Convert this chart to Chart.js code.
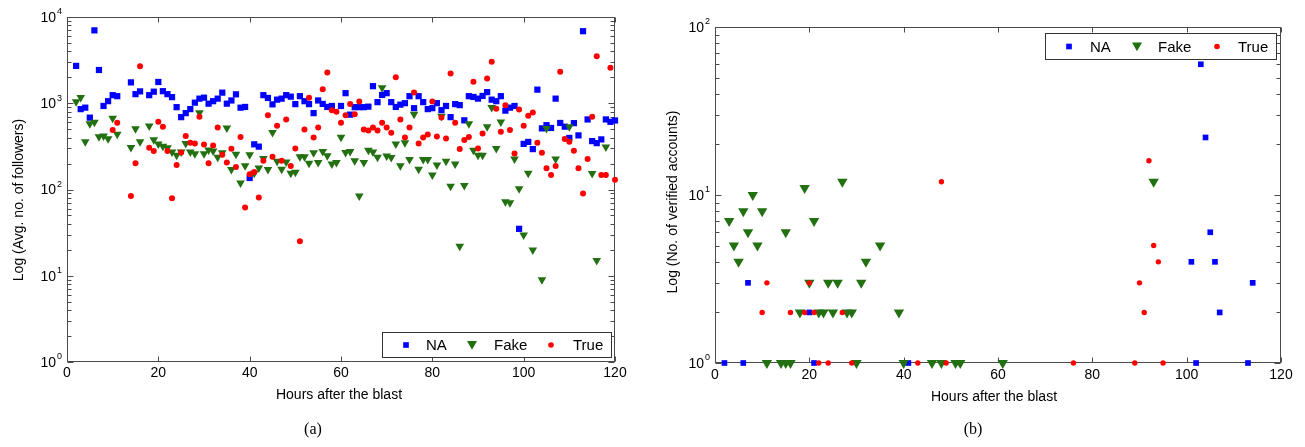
<!DOCTYPE html>
<html><head><meta charset="utf-8">
<script src="https://cdn.jsdelivr.net/npm/chart.js@4.4.0/dist/chart.umd.min.js"></script>
<style>
html,body{margin:0;padding:0;background:#fff;}
#wrap{position:relative;width:1305px;height:447px;background:#fff;}
canvas{position:absolute;top:0;}
</style></head><body>
<div id="wrap">
<canvas id="c1" width="650" height="447" style="left:0px"></canvas>
<canvas id="c2" width="655" height="447" style="left:650px"></canvas>
</div>
<script>
// ---------- DATA ----------
const hours = Array.from({length:120},(_,i)=>i+1);
const naFollowers = [null,2710,855,889,681,7000,2430,930,1057,1241,1208,null,null,1746,1275,1373,null,1241,1362,1765,
 1380,1275,1177,901,690,768,855,1016,1131,1161,989,1057,1131,1327,989,1077,1268,889,906,136,
 334,314,1241,1152,971,1101,1131,1241,1192,977,1208,1057,977,768,1077,982,906,930,null,930,
 1309,738,901,901,901,913,1578,1030,1248,1309,1030,906,963,1002,1208,877,1208,1030,855,877,
 1002,832,930,690,977,951,634,1208,1183,1131,1216,1345,1101,1057,1208,821,889,930,35,338,
 356,294,1438,511,557,517,1131,591,535,396,588,424,6845,649,364,345,381,649,609,632];
const fakeFollowers = [null,1038,1167,357,577,601,408,418,387,672,436,null,null,306,505,357,null,546,377,338,
 317,304,273,250,273,342,273,259,778,260,288,280,237,266,515,171,256,119,189,253,
 154,178,229,171,459,213,172,209,154,158,239,239,201,266,206,276,247,198,206,403,
 268,276,215,84,205,286,273,236,1517,244,235,336,188,348,223,748,172,223,223,147,
 192,709,213,109,197,22,111,577,286,250,250,533,894,299,607,72,70,226,102,29.6,
 154,19.9,null,9.0,511,null,226,null,null,533,null,null,null,null,153,15,null,310,null,null];
const trueFollowers = [null,null,null,null,null,null,null,null,null,488,593,null,null,84,201,2692,null,304,279,609,
 533,279,79,192,269,416,348,342,696,333,201,323,524,253,205,296,182,405,62,150,
 160,81,215,728,239,547,215,649,187,299,25.2,497,1155,402,524,1457,2275,832,795,593,
 728,977,748,1050,497,484,524,484,593,524,454,2006,649,402,524,1334,342,402,435,1050,
 412,685,391,2215,593,294,374,405,1770,299,447,1938,3018,861,466,951,488,262,848,547,
 715,782,348,266,176,147,187,2312,384,357,281,176,90,225,696,3515,147,147,2572,130];

const naVerHours   = [2,6,7,20,21,41,101,102,103,104,105,106,107,113,114];
const naVerCounts  = [1,1,3,2,1,1,4,1,60,22,6,4,2,1,3];
const fakeVerHours = [3,4,5,6,7,8,9,10,11,14,15,15,16,18,19,20,21,22,23,24,25,26,27,28,29,30,31,32,35,39,40,46,48,51,52,61,93];
const fakeVerCounts= [7,5,4,8,6,10,5,8,1,1,6,1,1,2,11,3,7,2,2,3,2,3,12,2,2,1,3,4,5,2,1,1,1,1,1,1,12];
const trueVerHours = [10,11,16,19,20,21,22,24,27,29,43,48,49,76,89,90,91,92,93,94,95];
const trueVerCounts= [2,3,2,2,3,2,1,1,2,1,1,12,1,1,1,3,2,16,5,4,1];

const xTickValues = [0,20,40,60,80,100,120];
const xTickLabels = ['0','20','40','60','80','100','120'];
const followersExponents = [0,1,2,3,4];
const verifiedExponents = [0,1,2];
const seriesNames = ['NA','Fake','True'];

// ---------- HELPERS ----------
const FONT = '"Liberation Sans", Arial, Helvetica, sans-serif';
const COL = {na:'#0000ff', fake:'rgb(34,112,17)', tru:'#ff0000'};

function pts(xs, ys){ const out=[]; xs.forEach((x,i)=>{ if(ys[i]!=null) out.push({x:x,y:ys[i]}); }); return out; }

function ds(label, data, style, r, color, rot, order){
  return {label, data, showLine:false, pointStyle:style, pointRadius:r, pointHoverRadius:r,
    pointRotation:rot||0, pointBackgroundColor:color, pointBorderColor:color, pointBorderWidth:0,
    backgroundColor:color, borderColor:color, clip:false, order:order};
}

function marker(ctx, style, x, y, r, color){
  ctx.fillStyle=color; ctx.beginPath();
  if(style==='rect'){ const s=Math.SQRT1_2*r; ctx.rect(x-s,y-s,2*s,2*s); }
  else if(style==='tri'){ ctx.moveTo(x, y+r); ctx.lineTo(x-r*Math.sqrt(3)/2, y-r/2); ctx.lineTo(x+r*Math.sqrt(3)/2, y-r/2); ctx.closePath(); }
  else { ctx.arc(x,y,r,0,Math.PI*2); }
  ctx.fill();
}

const framePlugin = {
  id:'frame',
  beforeDatasetsDraw(chart, args, o){
    const ctx=chart.ctx, xs=chart.scales.x, ys=chart.scales.y, a=chart.chartArea;
    const L=Math.round(a.left)+0.5, R=Math.round(a.right)-0.5, T=Math.round(a.top)+0.5, B=Math.round(a.bottom)-0.5;
    ctx.save();
    ctx.strokeStyle='#4a4a4a'; ctx.lineWidth=1;
    ctx.strokeRect(L,T,R-L,B-T);
    ctx.beginPath();
    xTickValues.forEach(v=>{
      const px=Math.round(xs.getPixelForValue(v))+0.5;
      ctx.moveTo(px,B); ctx.lineTo(px,B-5);
      ctx.moveTo(px,T); ctx.lineTo(px,T+5);
    });
    const ex=o.exps;
    for(let k=0;k<ex.length;k++){
      const d=ex[k];
      const ms = (k===ex.length-1)?[1]:[1,2,3,4,5,6,7,8,9];
      ms.forEach(m=>{
        const py=Math.round(ys.getPixelForValue(m*Math.pow(10,d)))+0.5;
        const len=(m===1)?6:4;
        ctx.moveTo(L,py); ctx.lineTo(L+len,py);
        ctx.moveTo(R,py); ctx.lineTo(R-len,py);
      });
    }
    ctx.stroke();
    // tick labels
    ctx.fillStyle='#000';
    ctx.font='14px '+FONT; ctx.textAlign='center'; ctx.textBaseline='middle';
    xTickValues.forEach((v,i)=>{
      ctx.fillText(xTickLabels[i], xs.getPixelForValue(v), a.bottom+o.xLabOff);
    });
    ex.forEach(e=>{
      const py=ys.getPixelForValue(Math.pow(10,e));
      ctx.font='14px '+FONT; ctx.textAlign='right'; ctx.textBaseline='middle';
      ctx.fillText('10', a.left-11, py+1);
      ctx.font='9px '+FONT; ctx.textAlign='left';
      ctx.fillText(String(e), a.left-10, py-5);
    });
    // titles
    ctx.font='14px '+FONT; ctx.textAlign='center'; ctx.textBaseline='middle';
    ctx.fillText(o.xTitle, o.xTitleX, o.xTitleY);
    ctx.save(); ctx.translate(o.yTitleX, o.yTitleY); ctx.rotate(-Math.PI/2);
    ctx.fillText(o.yTitle, 0, 0); ctx.restore();
    ctx.font='16px "Liberation Serif", "Times New Roman", serif';
    ctx.fillText(o.panel, o.panelX, o.panelY);
    ctx.restore();
  },
  afterDatasetsDraw(chart, args, o){
    const ctx=chart.ctx, lg=o.legend;
    ctx.save();
    ctx.fillStyle='#fff'; ctx.fillRect(lg.x, lg.y, lg.w, lg.h);
    ctx.strokeStyle='#333'; ctx.lineWidth=1;
    ctx.strokeRect(lg.x+0.5, lg.y+0.5, lg.w, lg.h);
    const cy=lg.y+lg.h/2+0.5;
    const styles=[['rect',4,COL.na],['tri',5.8,COL.fake],['circle',2.8,COL.tru]];
    styles.forEach((s,i)=>{
      marker(ctx, s[0], lg.items[i][0], s[0]==='tri'?cy-1:cy, s[1], s[2]);
      ctx.fillStyle='#000'; ctx.font='15px '+FONT; ctx.textAlign='left'; ctx.textBaseline='middle';
      ctx.fillText(seriesNames[i], lg.items[i][1], cy+1);
    });
    ctx.restore();
  }
};

function makeChart(id, datasets, ymax, pad, deco){
  return new Chart(document.getElementById(id), {
    type:'scatter',
    data:{datasets},
    options:{
      responsive:false, animation:false, events:[],
      layout:{padding:pad},
      scales:{
        x:{type:'linear', min:0, max:120, display:false},
        y:{type:'logarithmic', min:1, max:ymax, display:false}
      },
      plugins:{legend:{display:false}, tooltip:{enabled:false}, frame:deco}
    },
    plugins:[framePlugin]
  });
}

// ---------- CHART (a) ----------
makeChart('c1', [
  ds('NA',   pts(hours, naFollowers),   'rect',     4.4, COL.na,   0,   2),
  ds('Fake', pts(hours, fakeFollowers), 'triangle', 5.0, COL.fake, 180, 1),
  ds('True', pts(hours, trueFollowers), 'circle',   3.0, COL.tru,  0,   0)
], 10000, {left:67, right:35, top:17, bottom:85}, {
  exps: followersExponents, xLabOff: 11,
  xTitle:'Hours after the blast', xTitleX:339, xTitleY:395,
  yTitle:'Log (Avg. no. of followers)', yTitleX:19, yTitleY:200,
  panel:'(a)', panelX:313, panelY:430,
  legend:{x:382, y:332, w:229, h:25, items:[[406,426],[472,494],[551,573]]}
});

// ---------- CHART (b) ----------
makeChart('c2', [
  ds('NA',   pts(naVerHours, naVerCounts),     'rect',     4.0, COL.na,   0,   2),
  ds('Fake', pts(fakeVerHours, fakeVerCounts), 'triangle', 6.0, COL.fake, 180, 1),
  ds('True', pts(trueVerHours, trueVerCounts), 'circle',   2.7, COL.tru,  0,   0)
], 100, {left:65, right:24, top:27, bottom:84}, {
  exps: verifiedExponents, xLabOff: 12,
  xTitle:'Hours after the blast', xTitleX:344, xTitleY:397,
  yTitle:'Log (No. of verified accounts)', yTitleX:23, yTitleY:202,
  panel:'(b)', panelX:323, panelY:430,
  legend:{x:395, y:33, w:231, h:26, items:[[419,440],[487,508],[567,588]]}
});
</script>
</body></html>
